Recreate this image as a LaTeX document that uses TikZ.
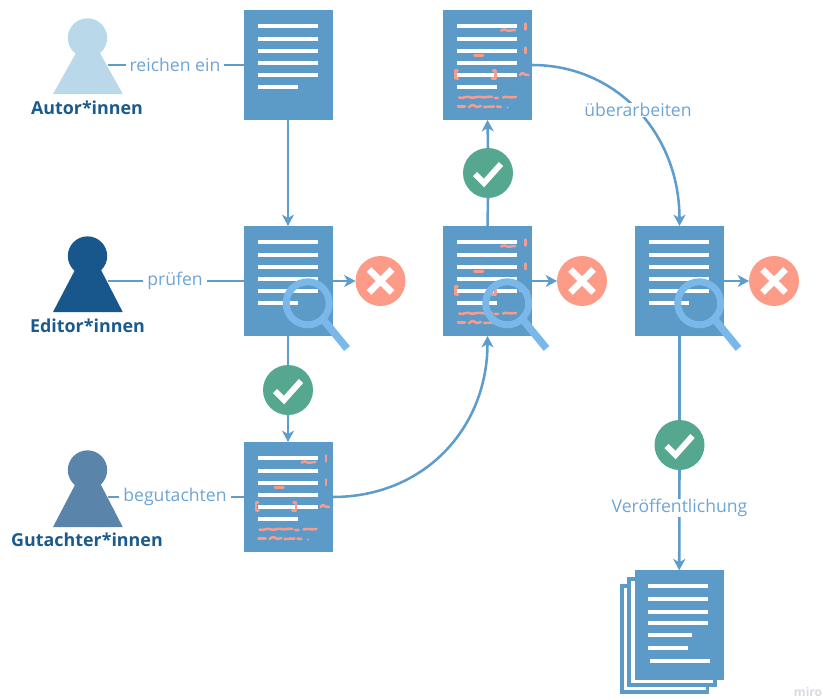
\documentclass[tikz,border=0pt]{standalone}
\usepackage{fontspec}
\setmainfont{Open Sans}
\usetikzlibrary{arrows.meta}
\definecolor{docblue}{HTML}{5C9AC8}
\definecolor{conncol}{HTML}{5E9CCB}
\definecolor{labcol}{HTML}{6DA5D6}
\definecolor{darklab}{HTML}{1B5A8C}
\definecolor{autorcol}{HTML}{B9D8EA}
\definecolor{editorcol}{HTML}{18578C}
\definecolor{gutcol}{HTML}{5A84A9}
\definecolor{redcol}{HTML}{FD9B89}
\definecolor{greencol}{HTML}{55A88F}
\definecolor{lenscol}{HTML}{7BB8EA}
\definecolor{markcol}{HTML}{F79C8C}
\definecolor{mirocol}{HTML}{D9D9E3}
\tikzset{
  x=0.75pt,y=-0.75pt,
  docbox/.style={rectangle,fill=docblue,draw=none,minimum width=66.75pt,minimum height=82.5pt,inner sep=0pt,outer sep=0pt,anchor=north west},
  textline/.style={white,line width=3pt},
  mark line/.style={markcol,line width=1.9pt,line cap=round,line join=round},
  conn/.style={conncol,line width=1.9pt},
  arrowconn/.style={conn,-{Stealth[length=8.5pt,width=9pt,inset=2.5pt]}},
  lab/.style={text=labcol,font=\fontsize{13.2pt}{15pt}\selectfont,fill=white,inner sep=0pt,outer sep=3pt,anchor=center},
  role/.style={text=darklab,font=\fontsize{13.4pt}{15pt}\selectfont\bfseries,inner sep=0pt,anchor=center},
  badge/.style={circle,minimum size=37.5pt,inner sep=0pt,outer sep=0pt,draw=none},
  nobadge/.style={badge,fill=redcol},
  yesbadge/.style={badge,fill=greencol},
  head/.style={circle,minimum size=29.5pt,inner sep=0pt,outer sep=0pt},
}
% text lines of a document, relative to its top-left corner
\newcommand\doclines[1]{%
  \begin{scope}[shift={(#1.north west)}]
    \foreach \yy in {15.7,29,41.3,53,64.7}{\draw[textline] (14,\yy) -- (74,\yy);}
    \draw[textline] (14,77.3) -- (54,77.3);
  \end{scope}}
% reviewer marks of a document
\newcommand\docmarks[1]{%
  \begin{scope}[shift={(#1.north west)}]
    \draw[mark line] (58,20.5) .. controls (61,19) and (62,19) .. (64,20.5) .. controls (66,21.5) and (68,20) .. (72,20);
    \draw[mark line] (82.3,13.5) -- (82.3,19.5);
    \draw[mark line] (82.3,37.5) -- (82.3,43);
    \draw[mark line] (31.5,45.7) -- (40,45.7);
    \draw[mark line] (14.5,60.5) -- (12.5,60.5) -- (12.5,68.5) -- (15,68.5);
    \draw[mark line] (49,68.5) -- (52.5,68.5) -- (52.5,60.5) -- (50,60.5);
    \draw[mark line] (77,65) .. controls (79,62) and (81,63.5) .. (82,64.5) -- (85.5,65);
    \draw[mark line] (16,87.5) .. controls (20,89) and (22,86) .. (26,87) .. controls (30,89) and (34,86) .. (38,87) .. controls (42,88) and (46,86) .. (49,87) (52,88) -- (55,88) (60,87.5) .. controls (63,86) and (66,88) .. (73,87);
    \draw[mark line] (15,96.5) -- (22,96.5) (26,97) .. controls (29,94) and (32,95) .. (34,97) -- (38,96) (41,97) -- (51,96.5) (54,96.5) -- (58,97);
    \fill[markcol] (64.5,97.5) circle (1.2);
  \end{scope}}
\newcommand\lens[1]{%
  \begin{scope}[shift={(#1.north west)}]
    \draw[lenscol,line width=5.6pt] (81,95) -- (103.5,122.5);
    \draw[lenscol,line width=5.2pt] (64.2,77.3) circle (21.5);
  \end{scope}}
\newcommand\xmark[1]{%
  \draw[white,line width=5pt] ([shift={(-11.5,-11.5)}]#1.center) -- ([shift={(11.5,11.5)}]#1.center);
  \draw[white,line width=5pt] ([shift={(-11.5,11.5)}]#1.center) -- ([shift={(11.5,-11.5)}]#1.center);}
\newcommand\cmark[1]{%
  \draw[white,line width=4.4pt] ([shift={(-13,1)}]#1.center) -- ([shift={(-4,10)}]#1.center) -- ([shift={(13,-9)}]#1.center);}
\begin{document}
\begin{tikzpicture}
\useasboundingbox (0,0) rectangle (823,699);
% persons
\fill[autorcol] (53,94) -- (76,53) -- (100,53) -- (122.7,94) -- cycle;
\node[head,fill=autorcol] (h1) at (87.5,38) {};
\fill[editorcol] (53,312) -- (76,268) -- (100,268) -- (122.7,312) -- cycle;
\node[head,fill=editorcol] (h2) at (87.5,256) {};
\fill[gutcol] (53,527) -- (76,483) -- (100,483) -- (122.7,527) -- cycle;
\node[head,fill=gutcol] (h3) at (87.5,470) {};
\node[role] (r1) at (87,107.5) {Autor*innen};
\node[role] (r2) at (87.5,325.5) {Editor*innen};
\node[role] (r3) at (87,539.5) {Gutachter*innen};
\coordinate (p1) at (108,65);
\coordinate (p2) at (108,281);
\coordinate (p3) at (108,497);
% documents
\node[docbox] (d1) at (243.5,10) {};
\node[docbox] (d2) at (243.5,226) {};
\node[docbox] (d3) at (243.5,442) {};
\node[docbox] (d4) at (443,10) {};
\node[docbox] (d5) at (443,226) {};
\node[docbox] (d6) at (635,226) {};
% pile
\draw[docblue,line width=2.8pt,fill=white] (621.8,585.8) rectangle (707.6,692.3);
\draw[docblue,line width=2.8pt,fill=white] (628.8,578.8) rectangle (715,685.3);
\node[docbox] (d7) at (634.7,570.3) {};
\foreach \d in {d1,d2,d3,d4,d5,d6}{\doclines{\d}}
\foreach \d in {d3,d4,d5}{\docmarks{\d}}
\begin{scope}[shift={(d7.north west)}]
  \foreach \yy in {15.7,29,41.3,53}{\draw[textline] (13.7,\yy) -- (73.6,\yy);}
  \draw[textline] (13.7,65) -- (57,65);
  \draw[textline] (13.7,77.7) -- (53.6,77.7);
  \draw[textline] (15,90.7) -- (75,90.7);
\end{scope}
% badges
\node[nobadge] (x1) at (380.5,281) {};
\node[nobadge] (x2) at (582,281) {};
\node[nobadge] (x3) at (774,281) {};
\node[yesbadge] (c1) at (288,390) {};
\node[yesbadge] (c2) at (488,173) {};
\node[yesbadge] (c3) at (679.5,445) {};
\xmark{x1}\xmark{x2}\xmark{x3}
\cmark{c1}\cmark{c2}\cmark{c3}
% labels
\node[lab] (l1) at (175,65) {reichen ein};
\node[lab] (l2) at (175,281) {prüfen};
\node[lab] (l3) at (175,497) {begutachten};
% connectors
\draw[conn] (p1) -- (l1.west);
\draw[conn] (l1.east) -- (d1.west);
\draw[conn] (p2) -- (l2.west);
\draw[conn] (l2.east) -- (d2.west);
\draw[conn] (p3) -- (l3.west);
\draw[conn] (l3.east) -- (d3.west);
\draw[arrowconn] (d1.south) -- (d2.north);
\draw[conn] (d2.south) -- (c1.north);
\draw[arrowconn] (c1.south) -- (d3.north);
\draw[arrowconn] (d2.east) -- (x1.west);
\draw[arrowconn] (d5.east) -- (x2.west);
\draw[arrowconn] (d6.east) -- (x3.west);
\draw[arrowconn] (d3.east) .. controls +(92,0) and +(0,92) .. (d5.south);
\draw[conn] (d5.north) -- (c2.south);
\draw[arrowconn] (c2.north) -- (d4.south);
\draw[arrowconn] (d4.east) .. controls +(85,0) and +(0,-92) .. (d6.north);
\node[lab] (l4) at (638,110) {überarbeiten};
\draw[conn] (d6.south) -- (c3.north);
\draw[arrowconn] (c3.south) -- (d7.north);
\node[lab] (l5) at (679.5,508) {Veröffentlichung};
% magnifiers
\lens{d2}\lens{d5}\lens{d6}
\node[text=mirocol,font=\fontsize{9pt}{10pt}\selectfont\bfseries,inner sep=0pt] (m) at (808,691.5) {miro};
\end{tikzpicture}
\end{document}
